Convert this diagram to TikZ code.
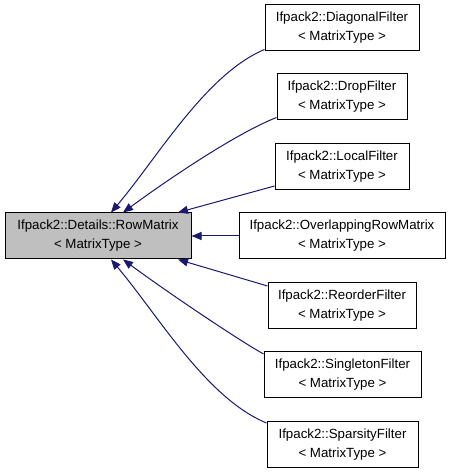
\documentclass[tikz,border=0pt]{standalone}
\usepackage{fontspec}
\setmainfont{Liberation Sans}
\usetikzlibrary{arrows.meta}
\definecolor{edgeblue}{RGB}{25,25,112}
\definecolor{basegray}{RGB}{191,191,191}
\begin{document}
\begin{tikzpicture}[x=1pt,y=1pt,
	baseclass/.style={
		rectangle,
		draw=black,
		line width=1pt,
		align=center,
		fill=basegray,
		inner sep=0pt,
		font=\fontsize{13.3}{19}\selectfont,
		minimum height=46pt,
		minimum width=186pt
	},
	derived/.style={
		rectangle,
		draw=black,
		line width=1pt,
		align=center,
		fill=white,
		inner sep=0pt,
		font=\fontsize{13.3}{19}\selectfont,
		minimum height=46pt
	},
	inherit/.style={
		draw=edgeblue,
		line width=1pt,
		{Triangle[length=10pt,width=8pt]}-
	},
]
\useasboundingbox (0,0) rectangle (451,472);

\node[baseclass] (rowmatrix) at (98,236) {Ifpack2::Details::RowMatrix\\< MatrixType >};

\node[derived, minimum width=154pt] (diagonal) at (342,444) {Ifpack2::DiagonalFilter\\< MatrixType >};
\node[derived, minimum width=130pt] (drop) at (342,375) {Ifpack2::DropFilter\\< MatrixType >};
\node[derived, minimum width=134pt] (local) at (342,305.5) {Ifpack2::LocalFilter\\< MatrixType >};
\node[derived, minimum width=206pt] (overlapping) at (342,236) {Ifpack2::OverlappingRowMatrix\\< MatrixType >};
\node[derived, minimum width=148pt] (reorder) at (342,166.5) {Ifpack2::ReorderFilter\\< MatrixType >};
\node[derived, minimum width=157pt] (singleton) at (342.5,97.5) {Ifpack2::SingletonFilter\\< MatrixType >};
\node[derived, minimum width=151pt] (sparsity) at (342.5,27.5) {Ifpack2::SparsityFilter\\< MatrixType >};

\draw[inherit] ([xshift=13pt]rowmatrix.north) .. controls (158,315) and (206,398) .. ([yshift=2pt]diagonal.south west);
\draw[inherit] ([xshift=25pt]rowmatrix.north) .. controls (170,294) and (237,339) .. ([yshift=3pt]drop.south west);
\draw[inherit] ([xshift=80pt]rowmatrix.north) -- ([yshift=4pt]local.south west);
\draw[inherit] (rowmatrix.east) -- (overlapping.west);
\draw[inherit] ([xshift=80pt]rowmatrix.south) -- ([yshift=-4pt]reorder.north west);
\draw[inherit] ([xshift=25pt]rowmatrix.south) .. controls (170,178) and (237,133) .. ([yshift=-3pt]singleton.north west);
\draw[inherit] ([xshift=13pt]rowmatrix.south) .. controls (158,157) and (206,74) .. ([yshift=-2pt]sparsity.north west);

\end{tikzpicture}
\end{document}
